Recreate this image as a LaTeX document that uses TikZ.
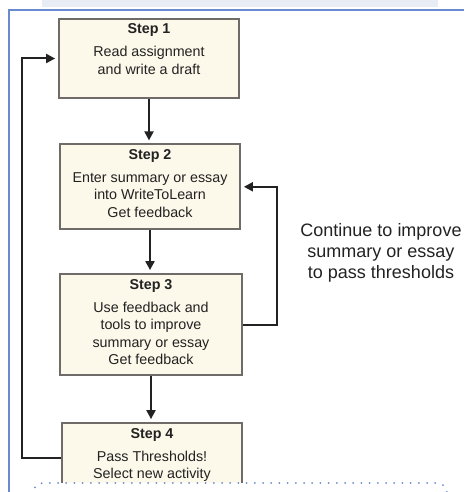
\documentclass[tikz,border=0pt]{standalone}
\usepackage{fontspec}
\setmainfont{Liberation Sans}
\usetikzlibrary{arrows.meta}
\definecolor{boxfill}{HTML}{FCF8EA}
\definecolor{boxline}{HTML}{6E6B68}
\definecolor{frameblue}{HTML}{6A8AD0}
\definecolor{bandgray}{HTML}{E8ECF5}
\definecolor{inkgray}{HTML}{222222}
% box text: bold title on top, the other lines below it
\newcommand{\stepcontent}[4]{\parbox[c][#1][t]{#2}{\centering\rule{0pt}{15pt}\textbf{#3}\\[5.5pt]#4}}
\tikzset{
  stepbox/.style={draw=boxline, line width=1.8pt, fill=boxfill, inner sep=0pt,
    text=inkgray, font=\fontsize{14.3}{17.5}\selectfont},
  flow/.style={draw=inkgray, line width=2pt, -{Triangle[length=9pt,width=9pt]}, shorten >=3pt},
  sidetext/.style={align=center, text=inkgray, font=\fontsize{18}{21}\selectfont},
  dotbox/.style={draw=frameblue, line width=2pt, line cap=round,
    dash pattern=on 0pt off 8.2pt, fill=white, rounded corners=10pt}
}
\begin{document}
\begin{tikzpicture}[x=1pt,y=-1pt]
	\useasboundingbox (0,0) rectangle (464,492);
	\clip (0,0) rectangle (464,492);
	% Khung nen phia tren
	\fill[bandgray] (42,0) rectangle (438,7);
	\draw[frameblue, line width=2pt] (8.5,492) -- (8.5,10) -- (464,10);
	% Cac buoc
	\node[stepbox] (s1) at (149,58.5) {\stepcontent{79pt}{180pt}{Step 1}{Read assignment\\and write a draft}};
	\node[stepbox] (s2) at (150,186.8) {\stepcontent{85pt}{180pt}{Step 2}{Enter summary or essay\\into WriteToLearn\\Get feedback}};
	\node[stepbox] (s3) at (151,324.5) {\stepcontent{101pt}{182pt}{Step 3}{Use feedback and\\tools to improve\\summary or essay\\Get feedback}};
	\node[stepbox] (s4) at (152,458) {\stepcontent{70pt}{180pt}{Step 4}{Pass Thresholds!\\Select new activity}};
	% Mui ten giua cac buoc
	\draw[flow] (s1.south) -- (s1.south |- s2.north);
	\draw[flow] (s2.south) -- (s2.south |- s3.north);
	\draw[flow] (s3.south) -- (s3.south |- s4.north);
	% Hai vong lap
	\draw[flow] (s3.east) -- ++(34,0) |- (s2.east);
	\draw[flow] (s4.west) -- ++(-39,0) |- (s1.west);
	\node[sidetext] (note) at (381,253) {Continue to improve\\summary or essay\\to pass thresholds};
	% Khung cham phia duoi
	\draw[dotbox] (33,483) rectangle (447,540);
\end{tikzpicture}
\end{document}
